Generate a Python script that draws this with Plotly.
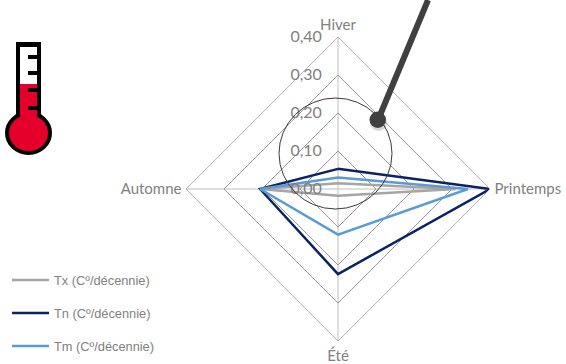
import plotly.graph_objects as go

W, H = 566, 364

seasons = ["Hiver", "Printemps", "Été", "Automne"]
tx_values = [0.015, 0.31, 0.018, 0.205]
tn_values = [0.053, 0.40, 0.224, 0.205]
tm_values = [0.030, 0.342, 0.120, 0.205]
radial_ticks = [0.0, 0.1, 0.2, 0.3, 0.4]

series_names = ["Tx (Cº/décennie)", "Tn (Cº/décennie)", "Tm (Cº/décennie)"]
series_colors = ["#a5a5a5", "#0b2265", "#5b9bd5"]
series_values = [tx_values, tn_values, tm_values]
key_rows = [280, 313, 346]


def px_x(x):
    return x / W


def px_y(y):
    return 1 - y / H


fig = go.Figure()
for name, color, values in zip(series_names, series_colors, series_values):
    fig.add_trace(go.Scatterpolar(
        r=values + values[:1],
        theta=seasons + seasons[:1],
        mode="lines",
        name=name,
        showlegend=False,
        line=dict(color=color, width=2.5, shape="linear"),
        hoverinfo="skip",
    ))

shapes = []


def box(x0, y0, x1, y1, **kw):
    shapes.append(dict(type=kw.pop("kind", "rect"), xref="paper", yref="paper",
                       x0=px_x(x0), x1=px_x(x1), y0=px_y(y0), y1=px_y(y1), **kw))


# Magnifier: ring with a handle reaching past the top edge
box(279, 98, 392, 209, kind="circle", line=dict(color="#3a3a3a", width=1), layer="above")
box(378, 120, 428, 0, kind="line", line=dict(color="#404040", width=6), layer="above")
box(370, 114, 387, 131, kind="circle", fillcolor="rgba(0,0,0,0.15)", line=dict(width=0), layer="above")
box(369.5, 111.5, 386, 128, kind="circle", fillcolor="#404040", line=dict(width=0), layer="above")

# Thermometer icon
box(16, 42, 41, 118, fillcolor="#000000", line=dict(width=0))
box(7, 113, 50, 153, kind="circle", fillcolor="#e4002b", line=dict(color="#000000", width=4))
box(20, 47, 37, 84, fillcolor="#ffffff", line=dict(width=0))
box(20, 84, 37, 125, fillcolor="#e4002b", line=dict(width=0))
for y in (57, 73, 90, 108):
    box(28, y - 2, 37, y + 2, fillcolor="#000000", line=dict(width=0))

# Series key drawn at fixed rows below the thermometer
annotations = []
for name, color, y in zip(series_names, series_colors, key_rows):
    box(12, y, 49, y, kind="line", line=dict(color=color, width=2.5))
    annotations.append(dict(
        text=name,
        xref="paper", yref="paper",
        x=px_x(52), y=px_y(y),
        xanchor="left", yanchor="middle",
        showarrow=False,
        font=dict(family="Liberation Sans", size=12.8, color="#7f7f7f"),
    ))

fig.update_layout(
    width=W,
    height=H,
    margin=dict(l=0, r=0, t=0, b=0, autoexpand=False),
    paper_bgcolor="white",
    separators=",.",
    shapes=shapes,
    annotations=annotations,
    showlegend=False,
    polar=dict(
        bgcolor="white",
        gridshape="linear",
        domain=dict(x=[px_x(186), px_x(490)], y=[px_y(341), px_y(37)]),
        radialaxis=dict(
            range=[0, 0.4],
            angle=90,
            side="counterclockwise",
            tickangle=90,
            tickvals=radial_ticks,
            tickformat=".2f",
            ticks="outside",
            ticklen=10,
            tickcolor="rgba(0,0,0,0)",
            showline=False,
            gridcolor="#9a9a9a",
            gridwidth=1.25,
            tickfont=dict(family="Lato", size=16, color="#7f7f7f"),
        ),
        angularaxis=dict(
            direction="clockwise",
            rotation=90,
            categoryorder="array",
            categoryarray=seasons,
            ticks="outside",
            ticklen=1,
            tickcolor="rgba(0,0,0,0)",
            showline=True,
            linecolor="#b5b5b5",
            linewidth=1,
            gridcolor="#bfbfbf",
            gridwidth=1.25,
            tickfont=dict(family="Lato", size=15, color="#7f7f7f"),
        ),
    ),
)

fig.write_html("out.html")
